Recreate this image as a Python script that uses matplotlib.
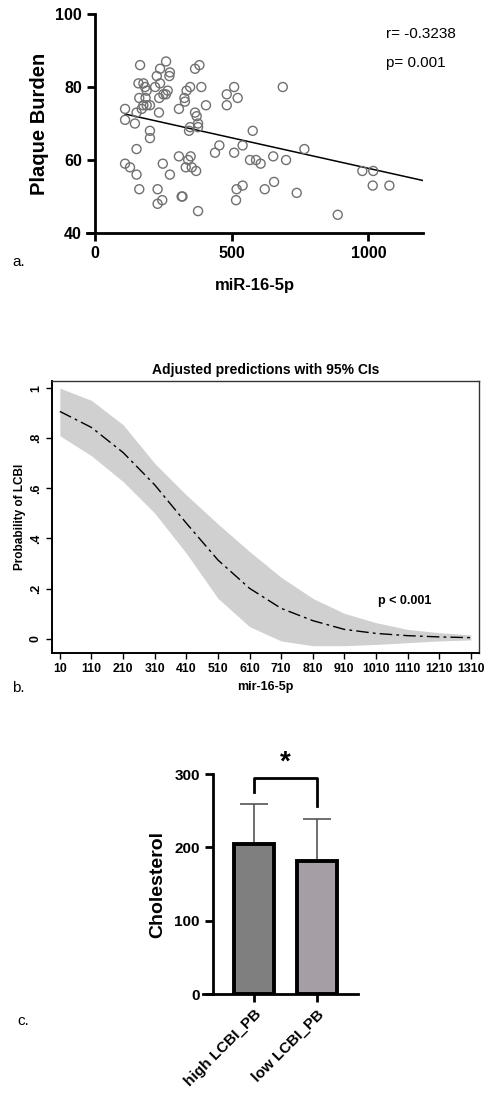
import numpy as np
import matplotlib
matplotlib.use("Agg")
import matplotlib.pyplot as plt

plt.rcParams['font.family'] = ['Liberation Sans', 'DejaVu Sans']

# panel a: scatter of plaque burden vs miR-16-5p
mir_x = [110, 110, 110, 128, 146, 152, 152, 152, 165, 159, 177, 162, 162, 171, 177,
         183, 189, 185, 189, 201, 201, 201, 220, 226, 238, 238, 235, 234, 229, 229,
         246, 248, 260, 250, 259, 266, 274, 272, 274, 307, 307, 317, 320, 327, 329,
         335, 348, 332, 341, 350, 344, 348, 354, 370, 366, 382, 366, 372, 377, 377,
         377, 389, 406, 439, 455, 482, 482, 509, 509, 522, 518, 516, 540, 540, 567,
         577, 589, 606, 621, 652, 655, 687, 699, 738, 766, 888, 978, 1018, 1016, 1077]
plaque_y = [74, 71, 59, 58, 70, 73, 63, 56, 86, 81, 81, 77, 52, 74, 75,
            80, 79, 77, 75, 75, 68, 66, 80, 83, 85, 81, 77, 73, 52, 48,
            49, 59, 87, 78, 78, 79, 84, 83, 56, 74, 61, 50, 50, 77, 76,
            79, 80, 58, 60, 61, 68, 69, 58, 57, 85, 86, 73, 72, 70, 69,
            46, 80, 75, 62, 64, 78, 75, 80, 62, 77, 52, 49, 64, 53, 60,
            68, 60, 59, 52, 61, 54, 80, 60, 51, 63, 45, 57, 57, 53, 53]
fit_x = [110, 1205]
fit_y = [72.6, 54.3]

# panel b: adjusted predictions
pred_x = [10, 110, 210, 310, 410, 510, 610, 710, 810, 910, 1010, 1110, 1210, 1310]
pred_y = [0.907, 0.843, 0.743, 0.614, 0.461, 0.314, 0.201, 0.121, 0.072, 0.037,
          0.021, 0.012, 0.007, 0.004]
ci_hi = [1.0, 0.951, 0.854, 0.70, 0.574, 0.458, 0.348, 0.245, 0.161, 0.101,
         0.064, 0.037, 0.024, 0.015]
ci_lo = [0.810, 0.730, 0.627, 0.501, 0.341, 0.161, 0.048, -0.009, -0.028, -0.028,
         -0.023, -0.016, -0.009, -0.005]

# panel c: cholesterol bars
groups = ["high LCBI_PB", "low LCBI_PB"]
chol_mean = [204.5, 182]
chol_sd = [55, 56.5]

fig = plt.figure(figsize=(4.86, 10.95), dpi=100)

# ---- a ----
ax = fig.add_axes([0.1786, 0.7872, 0.6918, 0.2])
ax.scatter(mir_x, plaque_y, s=42, facecolors='none', edgecolors='#707070', linewidths=1.0, zorder=3)
ax.plot(fit_x, fit_y, color='black', lw=1.1)
ax.set_xlim(-30, 1200)
ax.set_ylim(40, 100)
ax.spines['left'].set_position(('data', 0))
ax.spines['top'].set_visible(False)
ax.spines['right'].set_visible(False)
for s in ['left', 'bottom']:
    ax.spines[s].set_linewidth(2)
ax.set_xticks([0, 500, 1000])
ax.set_yticks([40, 60, 80, 100])
ax.tick_params(direction='out', length=6, width=2, labelsize=11.5)
for lab in ax.get_xticklabels() + ax.get_yticklabels():
    lab.set_fontweight('bold')
ax.set_xlabel("miR-16-5p", fontsize=12, fontweight='bold', labelpad=12)
ax.set_ylabel("Plaque Burden", fontsize=14.5, fontweight='bold', labelpad=4)
ax.text(0.89, 0.89, "r= -0.3238", transform=ax.transAxes, fontsize=11)
ax.text(0.89, 0.76, "p= 0.001", transform=ax.transAxes, fontsize=11)
fig.text(12 / 486, 1 - 262 / 1095, "a.", fontsize=11, va='center')

# ---- b ----
bx = fig.add_axes([0.1076, 0.4037, 0.878, 0.2487])
bx.fill_between(pred_x, ci_lo, ci_hi, color='#d0d0d0', lw=0)
bx.plot(pred_x, pred_y, color='black', lw=1.0, dashes=(9, 3, 2, 3))
bx.set_xlim(-14, 1336)
bx.set_ylim(-0.057, 1.03)
bx.set_xticks(pred_x)
bx.set_yticks([0, 0.2, 0.4, 0.6, 0.8, 1])
bx.set_yticklabels(["0", ".2", ".4", ".6", ".8", "1"], rotation=90, va='center')
bx.tick_params(direction='out', length=4, width=1, labelsize=8.8)
for lab in bx.get_xticklabels() + bx.get_yticklabels():
    lab.set_fontweight('bold')
for s in bx.spines.values():
    s.set_linewidth(1.0)
    s.set_color('#333333')
for s in ['left', 'bottom']:
    bx.spines[s].set_linewidth(1.4)
    bx.spines[s].set_color('black')
bx.set_title("Adjusted predictions with 95% CIs", fontsize=10, fontweight='bold', pad=5)
bx.set_xlabel("mir-16-5p", fontsize=9, fontweight='bold', labelpad=4)
bx.set_ylabel("Probability of LCBI", fontsize=8.5, fontweight='bold', labelpad=3)
bx.text(1102, 0.15, "p < 0.001", fontsize=9, fontweight='bold', ha='center', va='center')
fig.text(12 / 486, 1 - 688 / 1095, "b.", fontsize=11, va='center')

# ---- c ----
cx = fig.add_axes([0.4177, 0.0922, 0.3189, 0.2009])
pos = np.arange(len(groups))
cx.bar(pos, chol_mean, width=0.635, color=['#7f7f7f', '#a59fa5'], edgecolor='black',
       linewidth=2.8, zorder=3)
cx.errorbar(pos, chol_mean, yerr=[[0, 0], chol_sd], fmt='none', ecolor='#555555',
            elinewidth=1.2, capsize=10, capthick=1.2, zorder=2)
cx.set_xlim(-0.81, 1.65)
cx.set_ylim(0, 300)
cx.spines['left'].set_position(('data', -0.65))
cx.spines['top'].set_visible(False)
cx.spines['right'].set_visible(False)
for s in ['left', 'bottom']:
    cx.spines[s].set_linewidth(2)
cx.set_yticks([0, 100, 200, 300])
cx.set_xticks(pos)
cx.set_xticklabels(groups, rotation=45, ha='right', rotation_mode='anchor')
cx.tick_params(direction='out', length=6, width=2, labelsize=11)
for lab in cx.get_xticklabels() + cx.get_yticklabels():
    lab.set_fontweight('bold')
cx.set_ylabel("Cholesterol", fontsize=14, fontweight='bold', labelpad=6)
# significance bracket
cx.plot([0, 0, 1, 1], [275, 295, 295, 256], color='black', lw=2, clip_on=False)
cx.text(0.5, 298, "*", fontsize=20, fontweight='bold', ha='center', va='bottom')
fig.text(17 / 486, 1 - 1021 / 1095, "c.", fontsize=11, va='center')

fig.savefig("out.png", dpi=100)
